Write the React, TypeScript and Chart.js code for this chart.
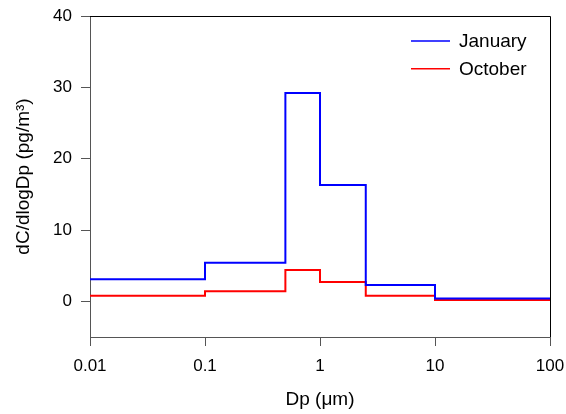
import React, { useEffect, useRef } from "react";
import { Chart, registerables } from "chart.js";

Chart.register(...registerables);

// Bin edges (Dp, µm) and dC/dlogDp values per bin
const binEdges = [0.01, 0.1, 0.5, 1, 2.5, 10, 100];
const januaryValues = [3.1, 5.4, 29.2, 16.3, 2.3, 0.4];
const octoberValues = [0.8, 1.4, 4.4, 2.7, 0.8, 0.2];
const seriesNames = ["January", "October"];
const seriesColors = ["#0000FF", "#FF0000"];
const xTickValues = [0.01, 0.1, 1, 10, 100];
const xTickLabels = ["0.01", "0.1", "1", "10", "100"];
const yTickValues = [0, 10, 20, 30, 40];
const xTitle = "Dp (\u03BCm)";
const yTitle = "dC/dlogDp (pg/m\u00B3)";

const FONT = '"Liberation Sans", Arial, sans-serif';

function toSteps(values: number[]) {
  const pts = values.map((v, i) => ({ x: binEdges[i], y: v }));
  pts.push({ x: binEdges[binEdges.length - 1], y: values[values.length - 1] });
  return pts;
}

const framePlugin = {
  id: "frameAndLegend",
  afterDraw(chart: any) {
    const { ctx, chartArea } = chart;
    const { left, right, top, bottom } = chartArea;
    ctx.save();
    // top and right frame lines
    ctx.strokeStyle = "#000";
    ctx.lineWidth = 1;
    ctx.beginPath();
    ctx.moveTo(left, top + 0.5);
    ctx.lineTo(right + 0.5, top + 0.5);
    ctx.lineTo(right + 0.5, bottom);
    ctx.stroke();
    // legend inside plot area
    ctx.font = `19px ${FONT}`;
    ctx.textBaseline = "middle";
    ctx.textAlign = "left";
    seriesNames.forEach((name, i) => {
      const y = top + 25 + i * 27.7;
      ctx.strokeStyle = seriesColors[i];
      ctx.lineWidth = 1.5;
      ctx.beginPath();
      ctx.moveTo(right - 139, y);
      ctx.lineTo(right - 100, y);
      ctx.stroke();
      ctx.fillStyle = "#000";
      ctx.fillText(name, right - 91, y + 1);
    });
    ctx.restore();
  },
};

export default function App() {
  const canvasRef = useRef<HTMLCanvasElement | null>(null);

  useEffect(() => {
    const canvas = canvasRef.current;
    if (!canvas) return;
    const chart = new Chart(canvas, {
      type: "line",
      data: {
        datasets: [
          {
            label: seriesNames[0],
            data: toSteps(januaryValues),
            borderColor: seriesColors[0],
            borderWidth: 2,
            pointRadius: 0,
            stepped: "before",
            fill: false,
          },
          {
            label: seriesNames[1],
            data: toSteps(octoberValues),
            borderColor: seriesColors[1],
            borderWidth: 2,
            pointRadius: 0,
            stepped: "before",
            fill: false,
          },
        ],
      },
      options: {
        animation: false,
        responsive: true,
        maintainAspectRatio: false,
        layout: { padding: { left: 0, right: 16, top: 16, bottom: 0 } },
        plugins: {
          legend: { display: false },
          tooltip: { enabled: false },
        },
        scales: {
          x: {
            type: "logarithmic",
            min: 0.01,
            max: 100,
            afterBuildTicks: (scale: any) => {
              scale.ticks = xTickValues.map((v) => ({ value: v }));
            },
            afterFit: (scale: any) => {
              scale.height = 77;
              scale.paddingLeft = 0;
              scale.paddingRight = 0;
            },
            ticks: {
              autoSkip: false,
              maxRotation: 0,
              padding: 10,
              color: "#000",
              font: { family: FONT, size: 17 },
              callback: (value: any) => {
                const idx = xTickValues.indexOf(Number(value));
                return idx >= 0 ? xTickLabels[idx] : "";
              },
            },
            grid: {
              drawOnChartArea: false,
              drawTicks: true,
              tickLength: 9,
              color: "#555",
            },
            border: { display: true, color: "#555", width: 1 },
            title: {
              display: true,
              text: xTitle,
              color: "#000",
              font: { family: FONT, size: 19 },
              padding: { top: 0, bottom: 3 },
            },
          },
          y: {
            type: "linear",
            min: -5,
            max: 40,
            afterBuildTicks: (scale: any) => {
              scale.ticks = yTickValues.map((v) => ({ value: v }));
            },
            afterFit: (scale: any) => {
              scale.width = 90;
              scale.paddingTop = 0;
              scale.paddingBottom = 0;
            },
            ticks: {
              padding: 9,
              color: "#000",
              font: { family: FONT, size: 17 },
              callback: (value: any) => String(value),
            },
            grid: {
              drawOnChartArea: false,
              drawTicks: true,
              tickLength: 9,
              color: "#555",
            },
            border: { display: true, color: "#555", width: 1 },
            title: {
              display: true,
              text: yTitle,
              color: "#000",
              font: { family: FONT, size: 19 },
              padding: { top: 12, bottom: 0 },
            },
          },
        },
      },
      plugins: [framePlugin],
    } as any);
    return () => chart.destroy();
  }, []);

  return (
    <div style={{ position: "fixed", left: 0, top: 0, width: 566, height: 414, background: "#fff" }}>
      <canvas ref={canvasRef} />
    </div>
  );
}
